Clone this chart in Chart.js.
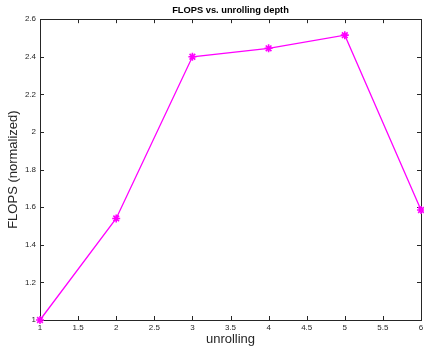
<!DOCTYPE html>
<html>
<head>
<meta charset="utf-8">
<script src="https://cdn.jsdelivr.net/npm/chart.js@4"></script>
<style>
  html, body { margin: 0; padding: 0; background: #fff; }
  #wrap { width: 424px; height: 347px; }
</style>
</head>
<body>
<div id="wrap"><canvas id="flops" width="424" height="347"></canvas></div>
<script>
// data
const unrolling = [1, 2, 3, 4, 5, 6];
const flops = [1.0, 1.54, 2.40, 2.445, 2.515, 1.585];
const xRange = [1, 6];
const yRange = [1, 2.6];
const xStep = 0.5;
const yStep = 0.2;

const axisColor = "#262626";
const lineColor = "#ff00ff";

// matlab style box with ticks pointing inward
const boxPlugin = {
  id: "box",
  beforeDatasetsDraw(chart) {
    const { ctx, chartArea, scales } = chart;
    const { left, right, top, bottom } = chartArea;
    ctx.save();
    ctx.strokeStyle = axisColor;
    ctx.lineWidth = 1;
    ctx.strokeRect(Math.round(left) + 0.5, Math.round(top) + 0.5,
      Math.round(right - left), Math.round(bottom - top));
    ctx.beginPath();
    scales.x.ticks.forEach((t) => {
      const px = Math.round(scales.x.getPixelForValue(t.value)) + 0.5;
      ctx.moveTo(px, bottom); ctx.lineTo(px, bottom - 4);
      ctx.moveTo(px, top); ctx.lineTo(px, top + 4);
    });
    scales.y.ticks.forEach((t) => {
      const py = Math.round(scales.y.getPixelForValue(t.value)) + 0.5;
      ctx.moveTo(left, py); ctx.lineTo(left + 4, py);
      ctx.moveTo(right, py); ctx.lineTo(right - 4, py);
    });
    ctx.stroke();
    ctx.restore();
  }
};

const fmt = (v) => String(+Number(v).toFixed(1));

new Chart(document.getElementById("flops"), {
  type: "line",
  data: {
    datasets: [{
      data: unrolling.map((u, i) => ({ x: u, y: flops[i] })),
      borderColor: lineColor,
      backgroundColor: lineColor,
      borderWidth: 1.3,
      pointStyle: "star",
      pointRadius: 4,
      pointBorderWidth: 1.6,
      pointBorderColor: lineColor,
      tension: 0,
      clip: false,
    }],
  },
  options: {
    responsive: false,
    animation: false,
    devicePixelRatio: 1,
    layout: { autoPadding: false, padding: { top: 0, right: 3, bottom: 0, left: 0 } },
    plugins: {
      legend: { display: false },
      tooltip: { enabled: false },
      title: {
        display: true,
        fullSize: false,
        text: "FLOPS vs. unrolling depth",
        color: "#000",
        font: { family: "Liberation Sans", size: 9.3, weight: "bold" },
        padding: { top: 5, bottom: 3 },
      },
    },
    scales: {
      x: {
        type: "linear",
        min: xRange[0],
        max: xRange[1],
        ticks: {
          stepSize: xStep,
          color: axisColor,
          font: { family: "Liberation Sans", size: 8 },
          padding: 3,
          maxRotation: 0,
          callback: fmt,
        },
        grid: { display: false, drawTicks: false },
        border: { display: false },
        title: {
          display: true,
          text: "unrolling",
          color: axisColor,
          font: { family: "Liberation Sans", size: 13 },
          padding: { top: 0, bottom: 0 },
        },
        afterFit(scale) {
          scale.height = 27;
          scale.paddingLeft = 0;
          scale.paddingRight = 0;
        },
      },
      y: {
        type: "linear",
        min: yRange[0],
        max: yRange[1],
        ticks: {
          stepSize: yStep,
          color: axisColor,
          font: { family: "Liberation Sans", size: 8 },
          padding: 4,
          callback: fmt,
        },
        grid: { display: false, drawTicks: false },
        border: { display: false },
        title: {
          display: true,
          text: "FLOPS (normalized)",
          color: axisColor,
          font: { family: "Liberation Sans", size: 13 },
          padding: { top: 6, bottom: 0 },
        },
        afterFit(scale) {
          scale.width = 40;
          scale.paddingTop = 0;
          scale.paddingBottom = 0;
        },
      },
    },
  },
  plugins: [boxPlugin],
});
</script>
</body>
</html>
